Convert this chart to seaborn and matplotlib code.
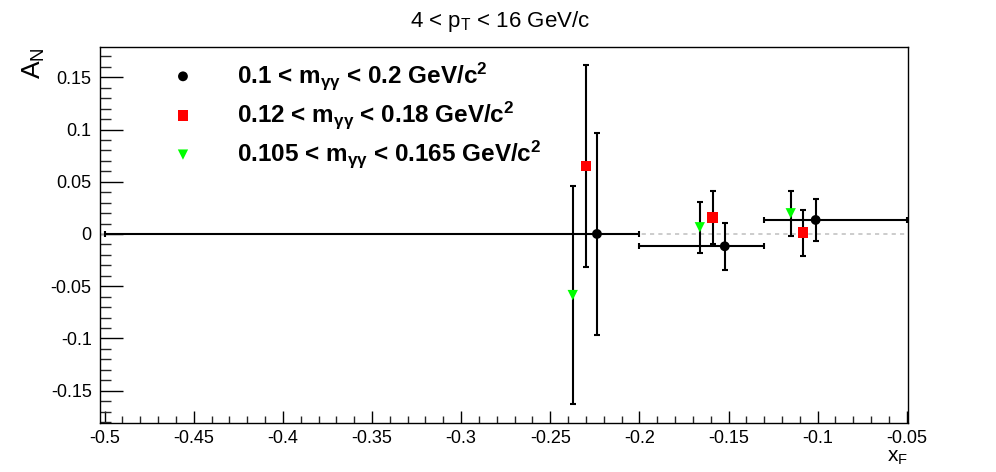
import numpy as np
import matplotlib
matplotlib.use("Agg")
import matplotlib.pyplot as plt
from matplotlib.ticker import MultipleLocator
import seaborn as sns

# ── Data ────────────────────────────────────────────────────────
# 0.1 < m_gg < 0.2 (black circles, with x_F bin widths)
x_black = [-0.2238, -0.1521, -0.1011]
y_black = [0.0, -0.0118, 0.0134]
yerr_black = [0.097, 0.0225, 0.0198]
bin_lo = [-0.5, -0.2, -0.13]
bin_hi = [-0.2, -0.13, -0.05]

# 0.12 < m_gg < 0.18 (red squares)
x_red = [-0.2300, -0.1589, -0.1084]
y_red = [0.0652, 0.0157, 0.0013]
yerr_red = [0.097, 0.0256, 0.022]

# 0.105 < m_gg < 0.165 (green triangles)
x_green = [-0.2374, -0.1661, -0.1151]
y_green = [-0.0585, 0.0064, 0.0198]
yerr_green = [0.104, 0.0245, 0.0216]

labels = [
    "0.1 < m$_{γγ}$ < 0.2 GeV/c$^{2}$",
    "0.12 < m$_{γγ}$ < 0.18 GeV/c$^{2}$",
    "0.105 < m$_{γγ}$ < 0.165 GeV/c$^{2}$",
]

sns.set_theme(style="ticks")
plt.rcParams.update({
    "font.family": ["Liberation Sans", "DejaVu Sans"],
    "mathtext.default": "regular",
    "axes.linewidth": 1.0,
    "axes.edgecolor": "black",
    "text.color": "black",
    "axes.labelcolor": "black",
})

fig = plt.figure(figsize=(9.96, 4.72), dpi=100)
ax = fig.add_axes([100 / 996, 1 - 423 / 472, 808 / 996, 376 / 472])

ax.axhline(0, color="#c4c4c4", linestyle=(0, (2.5, 2.5)), linewidth=1.2, zorder=1)

xb = np.array(x_black)
xerr_black = [xb - np.array(bin_lo), np.array(bin_hi) - xb]
err_kw = dict(fmt="none", ecolor="black", elinewidth=1.5, capsize=2.2,
              capthick=1.5, zorder=2)
ax.errorbar(x_black, y_black, yerr=yerr_black, xerr=xerr_black, **err_kw)
ax.errorbar(x_red, y_red, yerr=yerr_red, **err_kw)
ax.errorbar(x_green, y_green, yerr=yerr_green, **err_kw)

sns.scatterplot(x=x_black, y=y_black, marker="o", color="black", s=50,
                edgecolor="none", ax=ax, zorder=3, label=labels[0])
sns.scatterplot(x=x_red, y=y_red, marker="s", color="#ff0000", s=55,
                edgecolor="none", ax=ax, zorder=3, label=labels[1])
sns.scatterplot(x=x_green, y=y_green, marker="v", color="#00ff00", s=55,
                edgecolor="none", ax=ax, zorder=3, label=labels[2])

ax.set_xlim(-0.5026, -0.0493)
ax.set_ylim(-0.181, 0.179)
ax.xaxis.set_major_locator(MultipleLocator(0.05))
ax.xaxis.set_minor_locator(MultipleLocator(0.01))
ax.yaxis.set_major_locator(MultipleLocator(0.05))
ax.yaxis.set_minor_locator(MultipleLocator(0.01))
ax.set_xticklabels([f"{v:g}" for v in ax.get_xticks()])
ax.set_yticklabels([f"{v:g}" for v in ax.get_yticks()])
ax.tick_params(axis="x", which="major", direction="in", length=8.6, width=1,
               labelsize=13, pad=5, colors="black")
ax.tick_params(axis="x", which="minor", direction="in", length=5, width=1)
ax.tick_params(axis="y", which="major", direction="in", length=16.5, width=1,
               labelsize=13, pad=6, colors="black")
ax.tick_params(axis="y", which="minor", direction="in", length=8, width=1)
ax.set_xlim(-0.5026, -0.0493)
ax.set_ylim(-0.181, 0.179)

ax.set_xlabel("x$_{F}$", fontsize=15, loc="right", labelpad=1)
ax.set_ylabel("A$_{N}$", fontsize=19, loc="top")
ax.yaxis.set_label_coords(-0.066, 1.0)

fig.text(0.502, 0.955, "4 < p$_{T}$ < 16 GeV/c", ha="center", va="center",
         fontsize=16)

leg = ax.legend(loc="upper left", bbox_to_anchor=(0.0756, 0.991), frameon=False,
                prop={"weight": "bold", "size": 17.5}, handlelength=1.0,
                handletextpad=1.72, labelspacing=0.31, markerscale=1.0,
                borderaxespad=0)

fig.savefig("out.png", dpi=100)
